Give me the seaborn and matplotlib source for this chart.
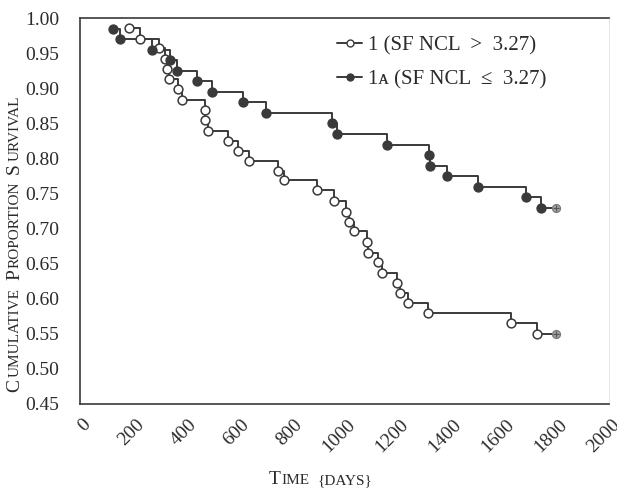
import matplotlib
matplotlib.use("Agg")
import numpy as np
import pandas as pd
import seaborn as sns
import matplotlib.pyplot as plt
from matplotlib.lines import Line2D
from matplotlib.transforms import ScaledTranslation

# Kaplan-Meier style survival curves
days_1 = [186, 227, 300, 321, 330, 336, 370, 384, 471, 474,
          485, 560, 597, 638, 749, 770, 897, 962, 1005, 1017,
          1037, 1084, 1087, 1128, 1141, 1200, 1210, 1239, 1317, 1628,
          1729]
surv_1 = [0.986, 0.970, 0.957, 0.942, 0.928, 0.913, 0.899, 0.883, 0.869, 0.855,
          0.840, 0.825, 0.811, 0.797, 0.782, 0.769, 0.755, 0.740, 0.724, 0.710,
          0.696, 0.681, 0.666, 0.652, 0.637, 0.623, 0.608, 0.594, 0.580, 0.565,
          0.550]

days_1a = [126, 151, 273, 340, 368, 443, 499, 617, 703, 952,
           970, 1162, 1320, 1325, 1386, 1504, 1685, 1742]
surv_1a = [0.985, 0.970, 0.955, 0.940, 0.925, 0.910, 0.895, 0.880, 0.865, 0.850,
           0.835, 0.820, 0.805, 0.790, 0.775, 0.760, 0.745, 0.730]

censor_day = 1800

labels = ["1 (SF NCL  >  3.27)", "1\u1d00 (SF NCL  \u2264  3.27)"]
x_ticks = list(range(0, 2001, 200))
y_ticks = [0.45, 0.50, 0.55, 0.60, 0.65, 0.70, 0.75, 0.80, 0.85, 0.90, 0.95, 1.00]

INK = "#2b2b2b"
LINE = "#3a3a3a"

sns.set_theme(style="white")
plt.rcParams["font.family"] = ["Liberation Serif", "DejaVu Serif"]

fig = plt.figure(figsize=(6.17, 4.90), dpi=100)
ax = fig.add_axes([80 / 617, 86 / 490, 529 / 617, 385.7 / 490])


def draw_group(days, surv, filled):
    # step line runs on to the censored end point
    line = pd.DataFrame({"day": days + [censor_day], "surv": surv + [surv[-1]]})
    sns.lineplot(data=line, x="day", y="surv", ax=ax, color=LINE, lw=1.4,
                 drawstyle="steps-post", estimator=None, sort=False, zorder=2)
    pts = pd.DataFrame({"day": days, "surv": surv})
    sns.scatterplot(data=pts, x="day", y="surv", ax=ax, s=40,
                    color=LINE if filled else "white", edgecolor=LINE,
                    linewidth=1.1, zorder=3)
    end = pd.DataFrame({"day": [censor_day], "surv": [surv[-1]]})
    sns.scatterplot(data=end, x="day", y="surv", ax=ax, s=34, color="#a0a0a0",
                    edgecolor="#7a7a7a", linewidth=0.8, zorder=3)
    sns.scatterplot(data=end, x="day", y="surv", ax=ax, s=14, marker="+",
                    color="#555555", linewidth=0.8, zorder=4)


draw_group(days_1, surv_1, filled=False)
draw_group(days_1a, surv_1a, filled=True)

ax.set_xlim(0, 2000)
ax.set_ylim(0.45, 1.00)
ax.set_xticks(x_ticks)
ax.set_xticklabels([str(t) for t in x_ticks])
ax.set_yticks(y_ticks)
ax.set_yticklabels([f"{t:.2f}" for t in y_ticks])
ax.set_xlabel("")
ax.set_ylabel("")

for side in ["top", "left", "bottom"]:
    ax.spines[side].set_color(LINE)
    ax.spines[side].set_linewidth(1.2)
ax.spines["right"].set_color("#e8e8e8")
ax.spines["right"].set_linewidth(0.8)

ax.tick_params(direction="in", length=5, width=1, color=LINE,
               labelsize=14, labelcolor=INK)
ax.tick_params(axis="y", pad=15)
ax.tick_params(axis="x", pad=13)
# rotated x labels sit a little right of their ticks
shift = ScaledTranslation(6 / 72, 0, fig.dpi_scale_trans)
for tick in ax.xaxis.get_major_ticks():
    lab = tick.label1
    lab.set_rotation(45)
    lab.set_ha("right")
    lab.set_va("center")
    lab.set_rotation_mode("anchor")
    lab.set_transform(lab.get_transform() + shift)

handles = [
    Line2D([], [], color=LINE, lw=1.4, marker="o", markersize=5,
           markerfacecolor="white", markeredgecolor=LINE),
    Line2D([], [], color=LINE, lw=1.4, marker="o", markersize=5,
           markerfacecolor=LINE, markeredgecolor=LINE),
]
leg = ax.legend(handles, labels, loc="upper left",
                bbox_to_anchor=((337 - 80) / 529, (404 - 36) / 385.7),
                frameon=False, fontsize=15, handlelength=1.2,
                handletextpad=0.3, labelspacing=0.7, borderaxespad=0,
                borderpad=0)
for t in leg.get_texts():
    t.set_color(INK)


def caps_text(parts, center, base, rotation, big=14, small=11):
    # small-caps label: upper case letters set at two sizes
    renderer = fig.canvas.get_renderer()
    W, H = fig.bbox.width, fig.bbox.height
    items = []
    for s, is_big in parts:
        if s == " ":
            items.append((None, big * 0.32 * fig.dpi / 72))
            continue
        t = fig.text(0, 0, s, fontsize=big if is_big else small,
                     rotation=rotation, rotation_mode="anchor",
                     ha="left", va="baseline", color=INK)
        bb = t.get_window_extent(renderer)
        items.append((t, (bb.height if rotation == 90 else bb.width) + 1.5))
    total = sum(L for _, L in items)
    pos = center - total / 2
    for t, L in items:
        if t is not None:
            if rotation == 90:
                t.set_position((base / W, pos / H))
            else:
                t.set_position((pos / W, base / H))
        pos += L


caps_text([("C", True), ("UMULATIVE", False), (" ", None),
           ("P", True), ("ROPORTION", False), (" ", None),
           ("S", True), ("URVIVAL", False)],
          center=490 - 243, base=19, rotation=90)
caps_text([("T", True), ("IME", False), (" ", None), ("{DAYS}", False)],
          center=321, base=490 - 484, rotation=0)

fig.savefig("out.png", dpi=100)
